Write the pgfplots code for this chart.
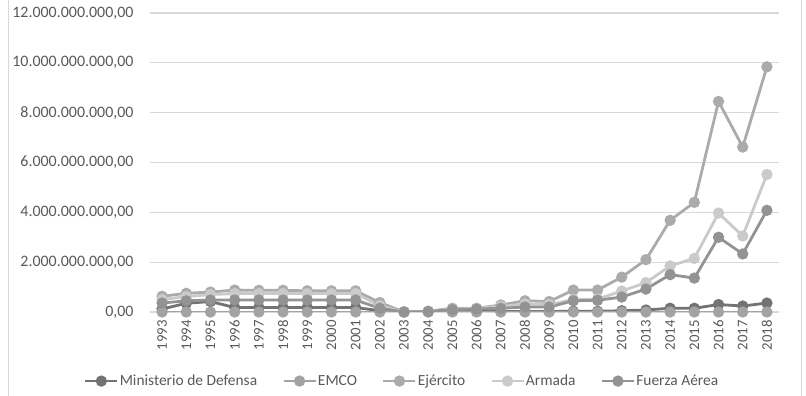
\documentclass[border=0pt]{standalone}
\usepackage{pgfplots}
\usepackage{pgfplotstable}
\pgfplotsset{compat=1.18}
\usepackage{fontspec}
\setmainfont{Carlito}
\definecolor{cMin}{HTML}{737373}
\definecolor{cEmco}{HTML}{A3A3A3}
\definecolor{cEjer}{HTML}{ABABAB}
\definecolor{cArm}{HTML}{CACACA}
\definecolor{cFA}{HTML}{939393}
\definecolor{gridc}{HTML}{D9D9D9}
\definecolor{txt}{HTML}{595959}
\pgfplotstableread{
year min emco ejer arm fa
1993 0.12 0.0 0.63 0.50 0.36
1994 0.35 0.0 0.75 0.62 0.45
1995 0.42 0.0 0.80 0.70 0.48
1996 0.18 0.0 0.88 0.74 0.48
1997 0.18 0.0 0.87 0.74 0.48
1998 0.18 0.0 0.87 0.74 0.48
1999 0.18 0.0 0.85 0.74 0.48
2000 0.18 0.0 0.85 0.74 0.48
2001 0.18 0.0 0.85 0.74 0.48
2002 0.05 0.0 0.38 0.25 0.15
2003 0.0 0.0 0.0 0.0 0.0
2004 0.01 0.0 0.03 0.03 0.02
2005 0.02 0.0 0.15 0.12 0.10
2006 0.02 0.0 0.15 0.15 0.12
2007 0.02 0.0 0.28 0.22 0.15
2008 0.02 0.0 0.45 0.32 0.20
2009 0.02 0.0 0.42 0.30 0.20
2010 0.03 0.0 0.88 0.50 0.45
2011 0.03 0.0 0.88 0.52 0.47
2012 0.05 0.0 1.40 0.84 0.60
2013 0.08 0.0 2.10 1.18 0.92
2014 0.15 0.0 3.68 1.85 1.50
2015 0.15 0.0 4.40 2.15 1.36
2016 0.30 0.0 8.45 3.97 3.00
2017 0.24 0.0 6.62 3.05 2.33
2018 0.36 0.0 9.84 5.52 4.08
}\datatable
\begin{document}
\begin{tikzpicture}
\useasboundingbox (0bp,0bp) rectangle (806bp,396bp);
\draw[gridc, line width=1bp] (8bp,-5bp) -- (8bp,401bp);
\draw[gridc, line width=1bp] (801bp,-5bp) -- (801bp,401bp);
\begin{axis}[
  at={(150bp,84bp)}, anchor=south west,
  scale only axis, width=629bp, height=299bp,
  xmin=1992.5, xmax=2018.5, ymin=0, ymax=12,
  axis line style={draw=none},
  major tick length=0pt,
  ymajorgrids, grid style={gridc, line width=1.1bp},
  xtick={1993,...,2018},
  xticklabels={1993,1994,1995,1996,1997,1998,1999,2000,2001,2002,2003,2004,2005,2006,2007,2008,2009,2010,2011,2012,2013,2014,2015,2016,2017,2018},
  ytick={0,2,4,6,8,10,12},
  yticklabels={{0,00},{2.000.000.000,00},{4.000.000.000,00},{6.000.000.000,00},{8.000.000.000,00},{10.000.000.000,00},{12.000.000.000,00}},
  tick label style={text=txt},
  x tick label style={font=\fontsize{14.8}{17}\selectfont, rotate=90, anchor=east},
  xticklabel shift=5bp,
  y tick label style={font=\fontsize{16}{18}\selectfont, xshift=-13bp},
  every axis plot/.append style={line width=2.8bp, mark=*, mark size=4.2bp, mark options={solid}},
  legend columns=5,
  legend style={draw=none, fill=none, at={(0.400,-0.231)}, anchor=center,
    font=\fontsize{15.5}{18}\selectfont, text=txt,
    nodes={inner xsep=1bp},
    /tikz/every even column/.append style={column sep=24bp}},
  legend image code/.code={\draw[#1, mark repeat=2, mark phase=2] plot coordinates {(0bp,0bp) (16bp,0bp) (32bp,0bp)};},
]
\addplot[cMin] table[x=year, y=min] {\datatable};
\addlegendentry{Ministerio de Defensa}
\addplot[cEmco] table[x=year, y=emco] {\datatable};
\addlegendentry{EMCO}
\addplot[cEjer] table[x=year, y=ejer] {\datatable};
\addlegendentry{Ejército}
\addplot[cArm] table[x=year, y=arm] {\datatable};
\addlegendentry{Armada}
\addplot[cFA] table[x=year, y=fa] {\datatable};
\addlegendentry{Fuerza Aérea}
\end{axis}
\end{tikzpicture}
\end{document}
